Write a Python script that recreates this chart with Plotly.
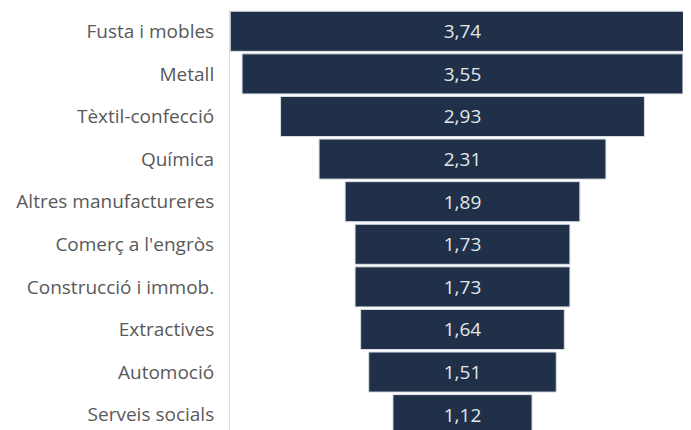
import plotly.graph_objects as go

categories = ["Fusta i mobles", "Metall", "Tèxtil-confecció", "Química",
              "Altres manufactureres", "Comerç a l'engròs", "Construcció i immob.",
              "Extractives", "Automoció", "Serveis socials"]
values = [3.74, 3.55, 2.93, 2.31, 1.89, 1.73, 1.73, 1.64, 1.51, 1.12]

fig = go.Figure(go.Funnel(
    y=categories,
    x=values,
    texttemplate="%{x:.2f}",
    textposition="inside",
    insidetextfont=dict(color="#e3e7ec", size=19, family="Open Sans"),
    marker=dict(color="#1f3048", line=dict(color="#d8dde3", width=1)),
    connector=dict(visible=False),
    hoverinfo="skip",
))

# page body has an 8px default margin, so the figure is offset by 8px
fig.update_layout(
    width=683, height=422,
    margin=dict(l=222, r=0, t=2, b=0, pad=0),
    paper_bgcolor="white", plot_bgcolor="white",
    separators=",.",
    funnelgap=0.06,
    showlegend=False,
    xaxis=dict(visible=False, range=[-1.872, 1.84], automargin=False),
    yaxis=dict(range=[9.36, -0.5], autorange=False, automargin=False,
               showline=True, linecolor="#dcdcdc", linewidth=1,
               tickfont=dict(family="Open Sans", size=19, color="#595959"),
               ticks="", ticklabelstandoff=11, showgrid=False),
)

fig.write_html("out.html")
